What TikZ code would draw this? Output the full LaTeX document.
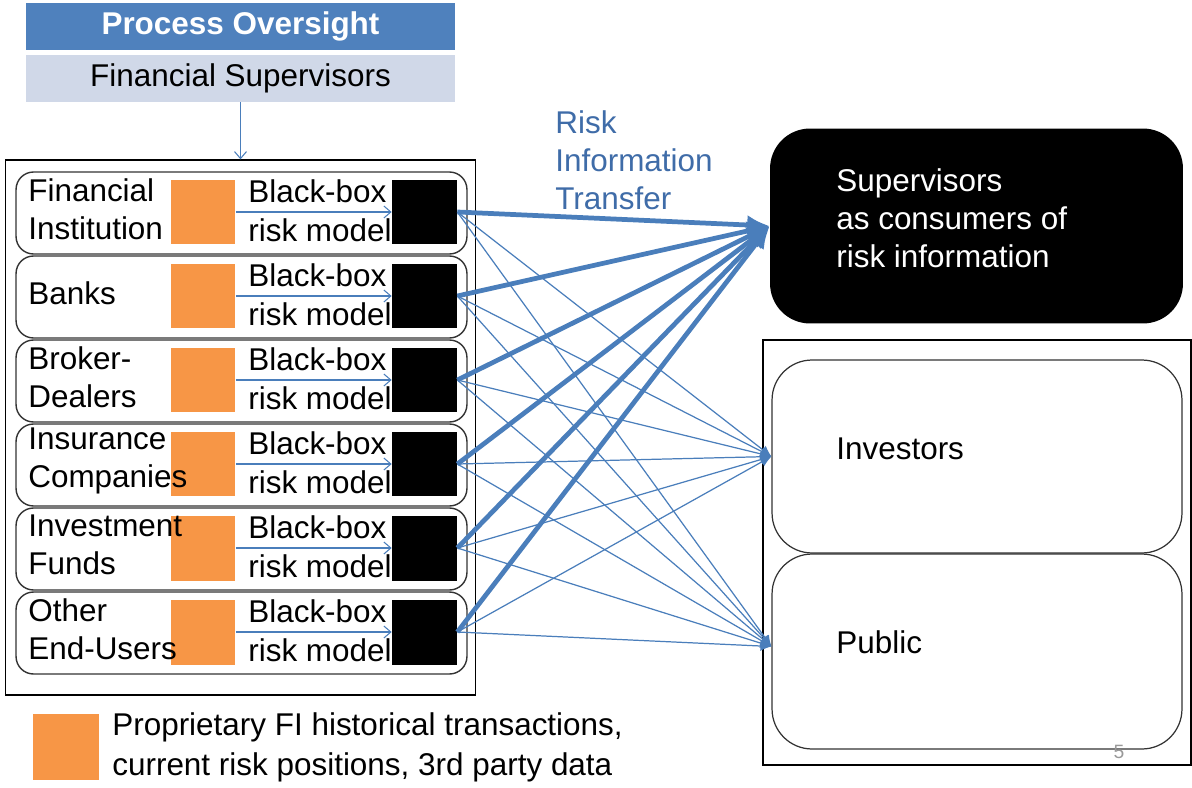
\documentclass[tikz,border=0pt]{standalone}
\usepackage{fontspec}
\setmainfont{Liberation Sans}
\usetikzlibrary{positioning,arrows.meta}
\definecolor{hdblue}{HTML}{4F81BD}
\definecolor{hdpale}{HTML}{D0D8E8}
\definecolor{fiorange}{HTML}{F79646}
\definecolor{flowblue}{HTML}{4A7EBB}
\definecolor{tagblue}{HTML}{3F6CA8}
\tikzset{
	txt/.style={font=\fontsize{17.9}{21.6}\selectfont,inner sep=0pt,align=left},
	hdbox/.style={minimum width=8.58cm,minimum height=0.94cm,inner sep=0pt,font=\fontsize{17.9}{21.6}\selectfont},
	rowbox/.style={draw=black!80,line width=0.8pt,rounded corners=0.35cm,minimum width=9.02cm,minimum height=1.64cm,inner sep=0pt},
	datasq/.style={fill=fiorange,minimum size=1.3cm,inner sep=0pt},
	modelsq/.style={fill=black,minimum size=1.3cm,inner sep=0pt},
	feed/.style={flowblue,line width=0.6pt,-{Straight Barb[length=0.14cm,width=0.24cm]}},
	thinlink/.style={flowblue,line width=0.7pt,-{Latex[length=0.22cm,width=0.2cm]}},
	thicklink/.style={flowblue,line width=2.7pt,-{Latex[length=0.45cm,width=0.4cm]}},
	userbox/.style={draw=black!80,line width=0.7pt,rounded corners=0.8cm,minimum width=8.2cm,inner sep=0pt},
}
\newcommand{\firow}[3]
{\begin{scope}[shift={(0,#1)}]
	\node[rowbox] (row#2) at (241.5,0) {};
	\node[datasq] (data#2) at (203,-1) {};
	\node[modelsq] (model#2) at (424.5,-1) {};
	\node[txt,anchor=west] (name#2) at (28,-4) {#3};
	\node[txt,anchor=west] (bb#2) at (248,-22) {Black-box};
	\node[txt,anchor=west] (rm#2) at (248,17) {risk model};
	\draw[feed] (data#2) -- (model#2);
\end{scope}
}

\begin{document}
\begin{tikzpicture}[x={(0.02cm,0)},y={(0,-0.02cm)},>=latex]
	\useasboundingbox (0,0) rectangle (1192,787);
	\node[hdbox,fill=hdblue,text=white,font=\fontsize{17.9}{21.6}\selectfont\bfseries] (po) at (240.5,26.5) {Process Oversight};
	\node[hdbox,fill=hdpale] (fs) at (240.5,78.5) {Financial Supervisors};
	\node[draw,line width=0.8pt,minimum width=9.4cm,minimum height=10.7cm,inner sep=0pt] (firms) at (240.5,427.5) {};
	\draw[feed] (fs.south) -- (firms.north);
	\firow{213}{1}{Financial\\Institution}
	\firow{297}{2}{Banks}
	\firow{381}{3}{Broker-\\Dealers}
	\firow{465}{4}{Insurance\\Companies}
	\firow{549}{5}{Investment\\Funds}
	\firow{633}{6}{Other\\End-Users}
	\node[fill=black,rounded corners=0.8cm,minimum width=8.26cm,minimum height=3.9cm,inner sep=0pt] (sup) at (976.5,226) {};
	\node[txt,text=white,anchor=west] (suptxt) at (836,218) {Supervisors\\as consumers of\\risk information};
	\node[draw,line width=0.8pt,minimum width=8.56cm,minimum height=8.5cm,inner sep=0pt] (public) at (977,552.5) {};
	\node[userbox,minimum height=3.86cm] (inv) at (977,456.5) {};
	\node[userbox,minimum height=3.9cm] (pub) at (977,651.5) {};
	\node[txt,anchor=west] (invtxt) at (836,449) {Investors};
	\node[txt,anchor=west] (pubtxt) at (836,642) {Public};
	\node[text=black!40,font=\fontsize{11}{13}\selectfont,inner sep=0pt] (pageno) at (1119,752) {5};
	\node[txt,text=tagblue,anchor=west] (tag) at (555,160) {Risk\\Information\\Transfer};
	\foreach \i in {1,...,6}
	{
		\draw[thinlink] (model\i.east) -- (inv.west);
		\draw[thinlink] (model\i.east) -- ([yshift=0.1cm]pub.west);
	}
	\foreach \i in {1,...,6}
		\draw[thicklink] (model\i.east) -- (sup.west);
	\node[datasq,minimum size=1.32cm] (key) at (66,747) {};
	\node[txt,anchor=west,font=\fontsize{17.9}{22.7}\selectfont] (keytxt) at (112,747) {Proprietary FI historical transactions,\\current risk positions, 3rd party data};
\end{tikzpicture}
\end{document}
